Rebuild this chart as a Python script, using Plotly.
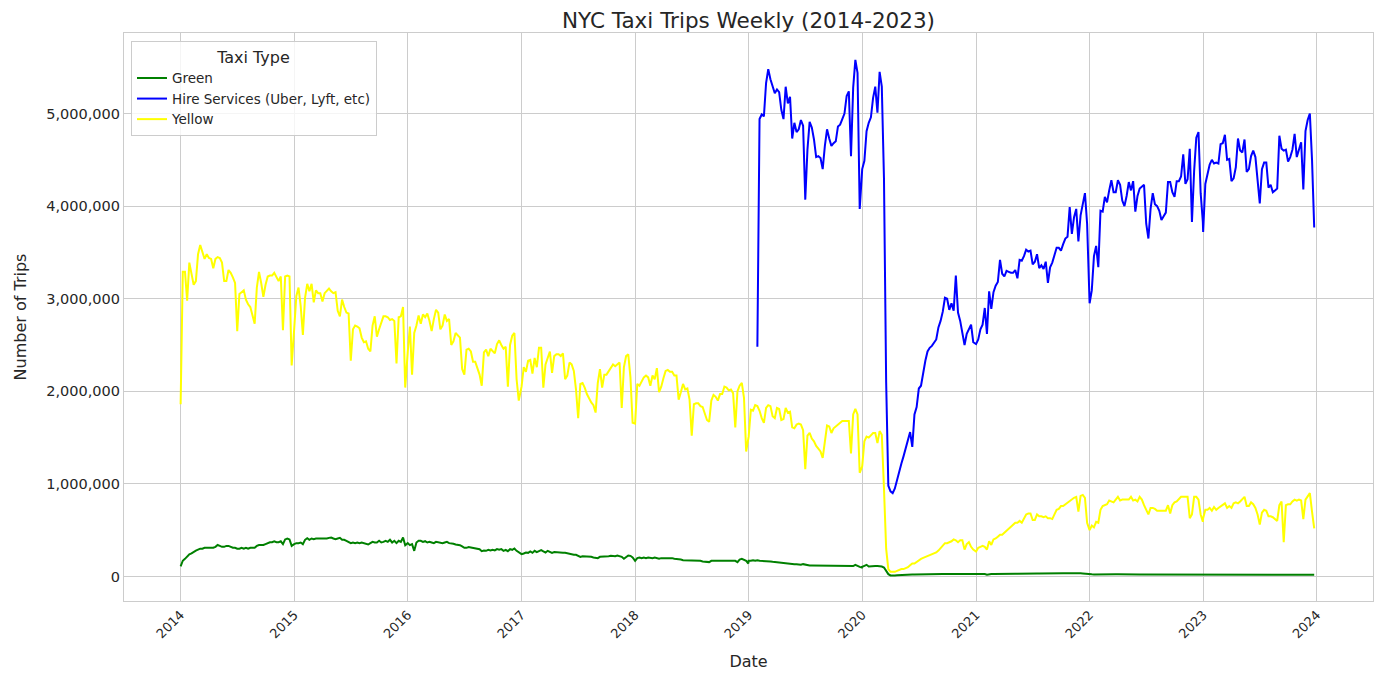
import pandas as pd
import plotly.graph_objects as go

# weekly trip counts, in thousands
yellow_2014 = [1860, 3290, 3290, 2980, 3390, 3260, 3150, 3190, 3480, 3580, 3510, 3430, 3480, 3440, 3430, 3330, 3430, 3450, 3440, 3390, 3190, 3190, 3310, 3280, 3230, 3170, 2650, 3050, 3070, 3090, 2990, 2940, 2910, 2830, 2730, 3120, 3290, 3170, 3020, 3150, 3240, 3250, 3250, 3280, 3240, 3190, 3240, 2660, 3240, 3250, 3240, 2280]
yellow_2015 = [2670, 3030, 3120, 2920, 2610, 3010, 3160, 3080, 3160, 2960, 3090, 3060, 3060, 2970, 3060, 3090, 3110, 3080, 3060, 3070, 2870, 2810, 2990, 2910, 2850, 2840, 2330, 2670, 2710, 2700, 2680, 2580, 2530, 2540, 2460, 2430, 2710, 2810, 2590, 2670, 2740, 2810, 2810, 2800, 2770, 2780, 2760, 2300, 2800, 2810, 2910, 2040]
yellow_2016 = [2420, 2700, 2180, 2630, 2710, 2820, 2730, 2830, 2800, 2840, 2760, 2650, 2780, 2880, 2850, 2670, 2710, 2830, 2760, 2780, 2500, 2540, 2630, 2600, 2580, 2240, 2180, 2450, 2460, 2430, 2320, 2320, 2260, 2180, 2060, 2420, 2450, 2380, 2460, 2430, 2410, 2510, 2550, 2500, 2460, 2480, 2050, 2500, 2600, 2630, 2130, 1900]
yellow_2017 = [2050, 2260, 2210, 2330, 2340, 2190, 2360, 2260, 2470, 2470, 2040, 2290, 2360, 2430, 2200, 2380, 2400, 2400, 2380, 2410, 2130, 2170, 2310, 2290, 2220, 2020, 1710, 2080, 2090, 2040, 1970, 1920, 1880, 1850, 1770, 2090, 2240, 2040, 2180, 2180, 2220, 2260, 2290, 2270, 2290, 2310, 1820, 2260, 2380, 2400, 2150, 1660]
yellow_2018 = [1650, 2080, 2060, 2110, 2150, 2170, 2150, 2060, 2170, 2130, 2250, 1990, 2050, 2140, 2220, 2230, 2210, 2210, 2170, 2170, 1910, 1990, 2080, 2020, 2030, 1910, 1520, 1860, 1870, 1870, 1840, 1830, 1770, 1690, 1670, 1900, 1960, 1940, 1900, 1970, 1970, 2050, 2040, 2010, 2020, 1980, 1610, 2000, 2060, 2090, 1930, 1350]
yellow_2019 = [1510, 1800, 1790, 1850, 1840, 1790, 1710, 1660, 1820, 1850, 1840, 1730, 1710, 1820, 1810, 1690, 1700, 1820, 1770, 1780, 1610, 1600, 1640, 1650, 1640, 1580, 1160, 1520, 1550, 1490, 1460, 1410, 1380, 1350, 1280, 1450, 1630, 1620, 1550, 1600, 1620, 1640, 1670, 1680, 1680, 1680, 1680, 1330, 1750, 1810, 1750, 1120]
yellow_2020 = [1190, 1460, 1510, 1500, 1520, 1550, 1550, 1440, 1570, 1530, 950, 300, 80, 50, 50, 50, 60, 70, 80, 80, 90, 100, 120, 140, 140, 160, 180, 190, 200, 210, 220, 230, 240, 250, 260, 280, 310, 340, 360, 360, 370, 380, 400, 390, 370, 390, 390, 290, 350, 370, 320, 290]
yellow_2021 = [270, 310, 320, 330, 320, 290, 380, 340, 400, 410, 430, 450, 450, 470, 500, 520, 530, 560, 580, 580, 600, 580, 630, 670, 680, 680, 610, 610, 670, 650, 650, 640, 650, 630, 630, 620, 670, 720, 730, 760, 760, 780, 800, 810, 830, 850, 860, 700, 870, 880, 850, 580]
yellow_2022 = [500, 550, 530, 590, 580, 720, 760, 770, 780, 820, 810, 800, 830, 860, 820, 830, 830, 830, 830, 860, 820, 830, 810, 860, 830, 770, 710, 670, 740, 740, 730, 710, 710, 710, 710, 710, 770, 680, 770, 800, 810, 830, 860, 860, 860, 860, 630, 670, 860, 860, 830, 670, 590]
yellow_2023 = [630, 720, 720, 740, 710, 750, 720, 740, 760, 770, 790, 740, 760, 740, 790, 800, 790, 810, 830, 860, 760, 760, 800, 780, 740, 670, 560, 690, 720, 710, 650, 650, 640, 620, 600, 770, 810, 370, 770, 780, 780, 810, 830, 820, 830, 820, 620, 830, 870, 900, 700, 520]

hire_2019 = [2480, 4940, 4990, 4970, 5330, 5480, 5370, 5300, 5220, 5260, 5230, 5040, 4940, 5290, 5110, 5180, 4730, 4900, 4800, 4830, 4930, 4870, 4070, 4610, 4910, 4850, 4720, 4530, 4540, 4520, 4400, 4650, 4830, 4730, 4650, 4680, 4700, 4860, 4880, 4940, 5000, 5190, 5240, 4540, 5280, 5580, 5440, 3970]
hire_2020 = [4400, 4490, 4810, 4900, 4960, 5170, 5290, 5010, 5450, 5290, 4300, 2100, 980, 920, 900, 950, 1050, 1120, 1220, 1300, 1380, 1460, 1560, 1400, 1750, 1830, 2030, 2060, 2220, 2330, 2430, 2470, 2490, 2520, 2560, 2690, 2760, 2860, 3010, 3000, 2880, 2950, 2870, 3250, 2850, 2760, 2630, 2500, 2620, 2670, 2720, 2530]
hire_2021 = [2510, 2560, 2670, 2720, 2900, 2620, 3080, 2890, 3070, 3140, 3180, 3420, 3270, 3240, 3300, 3290, 3280, 3280, 3310, 3220, 3420, 3410, 3460, 3530, 3510, 3520, 3370, 3400, 3480, 3330, 3360, 3320, 3400, 3170, 3340, 3390, 3480, 3550, 3550, 3520, 3590, 3650, 3670, 3990, 3700, 3880, 3970, 3620, 3900, 4040, 4140, 3810, 3080]
hire_2022 = [2950, 3090, 3460, 3570, 3340, 3950, 3940, 4100, 4040, 4170, 4280, 4150, 4150, 4280, 4230, 4060, 4000, 4110, 4260, 4170, 4270, 3940, 4110, 4190, 4210, 4230, 3810, 3650, 3970, 4140, 4020, 4000, 3950, 3850, 3890, 3930, 4260, 4260, 4150, 4100, 4270, 4270, 4320, 4560, 4240, 4290, 4620, 3830, 4380, 4740, 4800, 4140, 3830]
hire_2023 = [3720, 4240, 4360, 4450, 4500, 4460, 4470, 4460, 4670, 4680, 4770, 4500, 4510, 4270, 4300, 4420, 4730, 4600, 4580, 4720, 4370, 4400, 4540, 4600, 4530, 4290, 4030, 4400, 4470, 4470, 4200, 4230, 4150, 4170, 4190, 4760, 4620, 4600, 4610, 4480, 4530, 4610, 4780, 4530, 4600, 4690, 4180, 4810, 4930, 5000, 4500, 3770]

green_2014 = [110, 170, 190, 220, 240, 250, 270, 280, 290, 300, 300, 310, 310, 310, 310, 310, 320, 340, 330, 320, 320, 330, 330, 320, 310, 310, 300, 300, 310, 300, 310, 300, 310, 310, 310, 330, 340, 340, 340, 350, 360, 370, 370, 380, 370, 370, 380, 350, 400, 410, 400, 330]
green_2015 = [349, 360, 360, 367, 349, 396, 414, 396, 410, 403, 410, 410, 403, 410, 403, 410, 417, 421, 410, 403, 410, 417, 396, 396, 385, 374, 360, 367, 360, 367, 360, 367, 360, 360, 345, 360, 374, 367, 367, 385, 367, 374, 385, 374, 396, 367, 385, 360, 385, 374, 421, 338]
green_2016 = [360, 338, 349, 277, 367, 385, 385, 374, 381, 367, 374, 367, 360, 374, 367, 367, 360, 367, 374, 360, 360, 353, 345, 345, 338, 324, 309, 309, 317, 313, 309, 309, 302, 295, 273, 281, 277, 288, 281, 288, 281, 295, 288, 295, 277, 288, 273, 295, 288, 302, 277, 259]
green_2017 = [241, 248, 259, 255, 270, 255, 277, 263, 277, 284, 270, 259, 277, 270, 255, 263, 259, 259, 259, 255, 255, 248, 241, 241, 234, 234, 227, 212, 219, 219, 219, 212, 212, 205, 205, 198, 212, 212, 212, 219, 219, 223, 219, 219, 227, 219, 212, 191, 212, 227, 223, 205]
green_2018 = [169, 198, 205, 198, 205, 198, 205, 198, 198, 205, 198, 191, 198, 198, 198, 201, 198, 198, 191, 191, 183, 183, 176, 176, 176, 176, 169, 169, 169, 169, 169, 162, 162, 162, 155, 169, 169, 169, 173, 173, 176, 176, 176, 176, 173, 176, 169, 155, 183, 191, 183, 169, 140]
green_2019 = [169, 169, 176, 169, 176, 169, 169, 162, 169, 162, 162, 158, 155, 151, 147, 147, 140, 140, 140, 133, 133, 133, 133, 126, 126, 133, 126, 119, 119, 119, 119, 115, 115, 115, 115, 112, 119, 119, 119, 119, 119, 115, 119, 115, 119, 115, 115, 115, 112, 126, 112, 104, 97]
green_2020 = [104, 115, 126, 108, 112, 112, 112, 112, 112, 108, 97, 54, 25, 11, 7, 11, 14, 16, 18, 18, 18, 20, 20, 21, 21, 22, 22, 23, 23, 23, 24, 24, 24, 25, 25, 25, 25, 26, 26, 26, 27, 27, 27, 27, 27, 26, 27, 27, 27, 26, 26, 25]
green_2021 = [25, 25, 24, 24, 26, 18, 26, 27, 27, 28, 28, 28, 29, 29, 29, 30, 29, 30, 30, 30, 31, 30, 31, 30, 31, 31, 30, 31, 31, 31, 32, 32, 31, 32, 33, 33, 34, 34, 35, 35, 36, 35, 36, 36, 36, 35, 33, 35, 34, 33, 29, 24]
green_2022 = [22, 23, 22, 23, 23, 23, 24, 24, 24, 24, 25, 24, 24, 24, 23, 23, 23, 23, 22, 22, 22, 22, 21, 21, 21, 21, 20, 20, 21, 21, 21, 20, 20, 20, 21, 21, 21, 21, 22, 22, 22, 22, 22, 22, 22, 21, 20, 22, 22, 22, 22, 20, 18]
green_2023 = [20, 21, 21, 21, 22, 22, 22, 22, 22, 22, 22, 22, 22, 22, 21, 21, 21, 21, 21, 21, 20, 20, 20, 19, 19, 19, 19, 19, 19, 19, 19, 19, 20, 20, 20, 20, 20, 20, 20, 20, 21, 21, 21, 21, 21, 20, 20, 21, 21, 21, 21, 19]

yellow_years = [yellow_2014, yellow_2015, yellow_2016, yellow_2017, yellow_2018,
                yellow_2019, yellow_2020, yellow_2021, yellow_2022, yellow_2023]
green_years = [green_2014, green_2015, green_2016, green_2017, green_2018,
               green_2019, green_2020, green_2021, green_2022, green_2023]
hire_years = [hire_2019, hire_2020, hire_2021, hire_2022, hire_2023]


def build(year_lists, first_year, first_start=None):
    # each year's weeks start on Jan 1 (hire services start later in 2019)
    dates, vals = [], []
    for i, v in enumerate(year_lists):
        start = f"{first_year + i}-01-01"
        if i == 0 and first_start:
            start = first_start
        dates += list(pd.date_range(start, periods=len(v), freq="7D"))
        vals += [x * 1000 for x in v]
    return dates, vals


series = [
    ("Green", "green", build(green_years, 2014)),
    ("Hire Services (Uber, Lyft, etc)", "blue", build(hire_years, 2019, "2019-01-29")),
    ("Yellow", "yellow", build(yellow_years, 2014)),
]

fig = go.Figure()
for name, color, (dates, vals) in series:
    fig.add_trace(go.Scatter(x=dates, y=vals, mode="lines", name=name,
                             line=dict(color=color, width=2)))

# page body has an 8px margin, so the figure is drawn 8px smaller
font = "DejaVu Sans"
fig.update_layout(
    width=1376, height=676,
    margin=dict(l=116, r=11, t=25, b=83),
    paper_bgcolor="white", plot_bgcolor="white",
    font=dict(family=font, color="#262626"),
    title=dict(text="NYC Taxi Trips Weekly (2014-2023)", x=0.5, xref="paper",
               y=1 - 12.5 / 676, yref="container", yanchor="middle",
               font=dict(size=21.5, color="#262626")),
    legend=dict(x=0.0056, y=0.986, xanchor="left", yanchor="top",
                bgcolor="rgba(255,255,255,0.8)", bordercolor="#cccccc", borderwidth=1,
                font=dict(size=13.5),
                title=dict(text="Taxi Type", side="top center", font=dict(size=16))),
    showlegend=True,
)
fig.update_xaxes(
    range=["2013-07-03", "2024-06-30"],
    dtick="M12", tick0="2014-01-01", tickformat="%Y", tickangle=-45,
    tickfont=dict(size=13), showgrid=True, gridcolor="#cccccc", gridwidth=1,
    showline=True, linecolor="#cccccc", linewidth=1.25, mirror=True,
    zeroline=False, ticks="",
    title=dict(text="Date", font=dict(size=16)),
)
fig.update_yaxes(
    range=[-265000, 5870000], tick0=0, dtick=1000000, tickformat=",",
    tickfont=dict(size=14.5), showgrid=True, gridcolor="#cccccc", gridwidth=1,
    showline=True, linecolor="#cccccc", linewidth=1.25, mirror=True,
    zeroline=False, ticks="",
    title=dict(text="Number of Trips", font=dict(size=16)),
)

fig.write_html("out.html")
